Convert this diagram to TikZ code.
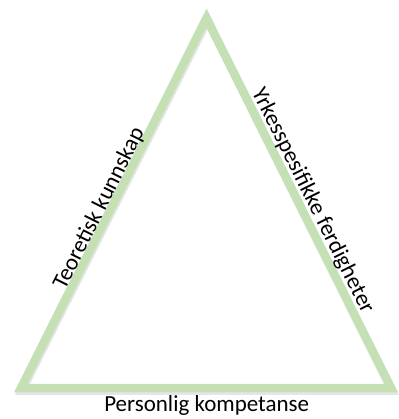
\documentclass[tikz,border=0pt]{standalone}
\usepackage{fontspec}
\setmainfont{Carlito}
\definecolor{tri}{HTML}{C5E0B4}
\begin{document}
\begin{tikzpicture}[x=1pt,y=-1pt,
  side/.style={draw=tri,line width=8.5pt,line join=miter},
  shade/.style={draw=black!40,opacity=0.25,line width=8.5pt,line join=miter},
  lbl/.style={font=\fontsize{23}{28}\selectfont,inner sep=0pt}]
\useasboundingbox (0,0) rectangle (398,419);
\coordinate (A) at (206.5,18);
\coordinate (B) at (21,388);
\coordinate (C) at (391,388);
\draw[shade] ([shift={(1,2.5)}]A) -- ([shift={(1,2.5)}]B) -- ([shift={(1,2.5)}]C) -- cycle;
\draw[side] (A) -- (B) -- (C) -- cycle;
\node[lbl,anchor=base,rotate=63.43] (left) at (104.8,211.4) {Teoretisk kunnskap};
\node[lbl,anchor=base,rotate=-63.43] (right) at (307.2,203.4) {Yrkesspesifikke ferdigheter};
\node[lbl,anchor=base] (bottom) at (206.7,411) {Personlig kompetanse};
\end{tikzpicture}
\end{document}
